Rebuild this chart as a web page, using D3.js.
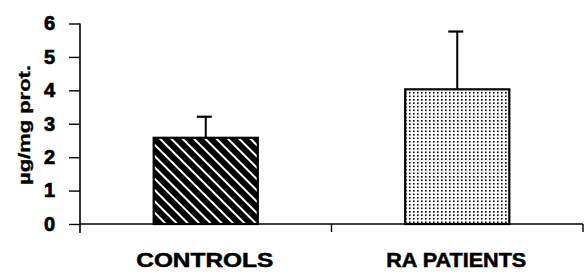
<!DOCTYPE html>
<html><head><meta charset="utf-8">
<script src="https://cdn.jsdelivr.net/npm/d3@7"></script>
<style>body{margin:0;background:#fff}svg{display:block}</style>
</head><body>
<script>
const categories = ["CONTROLS", "RA PATIENTS"];
const means = [2.58, 4.03];
const errors = [0.63, 1.73];
const yTicks = [0, 1, 2, 3, 4, 5, 6];
const yLabel = "µg/mg prot.";

const W = 585, H = 275;
const svg = d3.select("body").append("svg").attr("width", W).attr("height", H);
const defs = svg.append("defs");

// hatch pattern for controls ("\" stripes)
const hatch = defs.append("pattern").attr("id", "hatch").attr("patternUnits", "userSpaceOnUse")
  .attr("width", 8).attr("height", 8).attr("patternTransform", "rotate(45)");
hatch.append("rect").attr("width", 8).attr("height", 8).attr("fill", "#000");
hatch.append("rect").attr("x", 0).attr("y", 0).attr("width", 8).attr("height", 2).attr("fill", "#fff");

// dot pattern for RA
const dots = defs.append("pattern").attr("id", "dots").attr("patternUnits", "userSpaceOnUse")
  .attr("width", 4).attr("height", 7);
dots.append("rect").attr("width", 4).attr("height", 7).attr("fill", "#fff");
dots.append("rect").attr("x", 1).attr("y", 1).attr("width", 1.6).attr("height", 1.6).attr("fill", "#000");
dots.append("rect").attr("x", 1).attr("y", 4.5).attr("width", 1.6).attr("height", 1.6).attr("fill", "#000");

const x0 = 80, x1 = 583;
const y = d3.scaleLinear().domain([0, 6]).range([224, 23.5]);
const x = d3.scaleBand().domain(categories).range([x0, x1]).paddingInner(0.586).paddingOuter(0.293);

const fills = ["url(#hatch)", "url(#dots)"];
const font = "Arial, 'Liberation Sans', sans-serif";

// bars
svg.selectAll("rect.bar").data(categories).enter().append("rect")
  .attr("class", "bar")
  .attr("x", d => x(d))
  .attr("y", (d, i) => y(means[i]))
  .attr("width", x.bandwidth())
  .attr("height", (d, i) => y(0) - y(means[i]))
  .attr("fill", (d, i) => fills[i])
  .attr("stroke", "#000").attr("stroke-width", 2.2);

// error bars
categories.forEach((c, i) => {
  const cx = x(c) + x.bandwidth() / 2;
  svg.append("line").attr("x1", cx).attr("x2", cx)
    .attr("y1", y(means[i])).attr("y2", y(means[i] + errors[i]))
    .attr("stroke", "#000").attr("stroke-width", 2);
  svg.append("line").attr("x1", cx - 9).attr("x2", cx + 6)
    .attr("y1", y(means[i] + errors[i])).attr("y2", y(means[i] + errors[i]))
    .attr("stroke", "#000").attr("stroke-width", 2.2);
});

// y axis
const yAxis = d3.axisLeft(y).tickValues(yTicks).tickSize(11).tickPadding(14).tickFormat(d3.format("d"));
const gy = svg.append("g").attr("transform", `translate(${x0},0)`).call(yAxis);
gy.attr("font-size", null).attr("font-family", null);
gy.select(".domain").remove();
gy.append("line").attr("x1", 0).attr("x2", 0).attr("y1", y(6)).attr("y2", 233)
  .attr("stroke", "#000").attr("stroke-width", 1.6);
gy.selectAll(".tick line").attr("stroke", "#000").attr("stroke-width", 1.4);
gy.selectAll(".tick text").attr("fill", "#000")
  .attr("stroke", "#000").attr("stroke-width", 0.7)
  .style("font-family", font)
  .style("font-weight", "bold").style("font-size", "20px");

// x axis
svg.append("line").attr("x1", x0).attr("x2", x1).attr("y1", y(0)).attr("y2", y(0))
  .attr("stroke", "#000").attr("stroke-width", 1.4);
categories.forEach((c, i) => {
  const bx = x0 + (i + 1) * (x1 - x0) / categories.length;
  svg.append("line").attr("x1", bx).attr("x2", bx).attr("y1", y(0)).attr("y2", 232)
    .attr("stroke", "#000").attr("stroke-width", 1.4);
});

// category labels
svg.selectAll("text.cat").data(categories).enter().append("text")
  .attr("class", "cat")
  .attr("x", d => x(d) + x.bandwidth() / 2 - 1)
  .attr("y", 267)
  .attr("text-anchor", "middle")
  .attr("textLength", (d, i) => i === 0 ? 137 : 140)
  .attr("lengthAdjust", "spacingAndGlyphs")
  .attr("stroke", "#000").attr("stroke-width", 0.5)
  .style("font-family", font)
  .style("font-weight", "bold").style("font-size", "19.5px")
  .text(d => d);

// y label
svg.append("text")
  .attr("transform", "translate(30,125) rotate(-90)")
  .attr("text-anchor", "middle")
  .attr("textLength", 120)
  .attr("lengthAdjust", "spacingAndGlyphs")
  .attr("stroke", "#000").attr("stroke-width", 0.3)
  .style("font-family", font)
  .style("font-weight", "bold").style("font-size", "16px")
  .text(yLabel);
</script>
</body></html>
